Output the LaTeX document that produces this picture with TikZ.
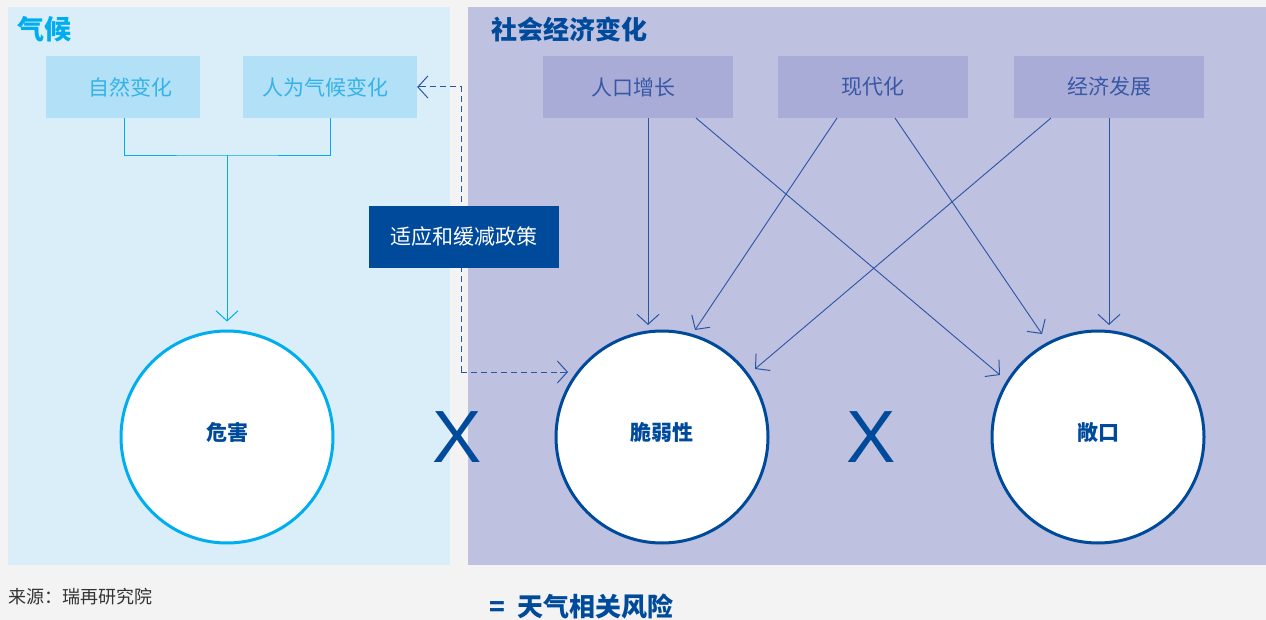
\documentclass[tikz,border=0pt]{standalone}
\usepackage{fontspec}
\setmainfont{Liberation Sans}
\newfontfamily\cjk{Noto Sans CJK SC}
\usetikzlibrary{arrows.meta,calc}
\definecolor{bgc}{HTML}{F3F3F3}
\definecolor{lpanel}{HTML}{DAEEFA}
\definecolor{rpanel}{HTML}{BFC1E0}
\definecolor{lbox}{HTML}{B1E0F7}
\definecolor{rbox}{HTML}{AAACD8}
\definecolor{cyanc}{HTML}{00AEEF}
\definecolor{navy}{HTML}{004A9C}
\definecolor{linec}{HTML}{2B55A3}
\definecolor{ltext}{HTML}{35B2E8}
\definecolor{rtext}{HTML}{3857A5}
\definecolor{srcc}{HTML}{333333}
\tikzset{
  lboxs/.style={fill=lbox, minimum width=#1, minimum height=62pt, inner sep=0pt, text=ltext, font=\cjk\fontsize{21}{24}\selectfont},
  rboxs/.style={fill=rbox, minimum width=190pt, minimum height=62pt, inner sep=0pt, text=rtext, font=\cjk\fontsize{21}{24}\selectfont},
  circs/.style={circle, draw=#1, fill=white, line width=3pt, minimum size=212pt, inner sep=0pt, text=navy, font=\cjk\bfseries\fontsize{21}{24}\selectfont},
  arr/.style={draw=linec, line width=0.9pt, -{Straight Barb[length=10pt,width=22pt,line width=1pt]}},
  carr/.style={draw=cyanc, line width=0.9pt, -{Straight Barb[length=10pt,width=22pt,line width=1pt]}},
  dsh/.style={draw=linec, line width=1pt, dash pattern=on 6pt off 4pt},
  xmark/.style={text=navy, font=\fontsize{74}{74}\selectfont, inner sep=0pt},
  titl/.style={anchor=west, inner sep=0pt, font=\cjk\bfseries\fontsize{27}{30}\selectfont}
}
\begin{document}
\begin{tikzpicture}[x=1pt,y=-1pt]
\fill[bgc] (0,0) rectangle (1266,620);
\useasboundingbox (0,0) rectangle (1266,620);
\fill[lpanel] (8,7) rectangle (450,565);
\fill[rpanel] (468,7) rectangle (1266,565);

\node[titl, text=cyanc] (t1) at (17,29) {气候};
\node[titl, text=navy, font=\cjk\bfseries\fontsize{26}{30}\selectfont] (t2) at (491,29) {社会经济变化};

\node[lboxs=154pt] (n1) at (123,87) {\hspace*{14pt}自然变化};
\node[lboxs=174pt] (n2) at (330,87) {人为气候变化\hspace*{10pt}};

\node[rboxs] (p1) at (638,87) {人口增长\hspace*{10pt}};
\node[rboxs] (p2) at (873,87) {现代化};
\node[rboxs] (p3) at (1109,87) {经济发展};

\node[circs=cyanc] (haz) at (227,437) {\raisebox{11pt}{危害}};
\node[circs=navy] (vul) at (662,437) {\raisebox{11pt}{脆弱性}};
\node[circs=navy] (exp) at (1098,437) {\raisebox{11pt}{敞口}};

% left tree
\coordinate (j) at (227,155);
\draw[cyanc, line width=0.9pt] (n1.south -| 124,0) |- (j) -| (n2.south);
\draw[carr] (j) -- ($(haz.north)+(0,-8)$);

% dashed policy line
\coordinate (dc) at (461,372);
\coordinate (dv) at (568,372);
\draw[dsh] (dc) |- (n2.east);
\draw[linec, line width=1pt, -{Straight Barb[length=10pt,width=22pt]}] ($(n2.east)+(8,0)$) -- (n2.east);
\draw[dsh] (dc) -- (dv);
\draw[linec, line width=1pt, -{Straight Barb[length=10pt,width=22pt]}] ($(dv)+(-8,0)$) -- (dv);

\node[fill=navy, minimum width=190pt, minimum height=62pt, inner sep=0pt, text=white, font=\cjk\fontsize{21}{24}\selectfont] (pol) at (464,237) {适应和缓减政策};

% right arrows
\coordinate (a1s) at (648,118); \coordinate (a1e) at (648,325);
\coordinate (a2s) at (696,118); \coordinate (a2e) at (1000,375);
\coordinate (a3s) at (837,118); \coordinate (a3e) at (695,330);
\coordinate (a4s) at (895,118); \coordinate (a4e) at (1042,334);
\coordinate (a5s) at (1051,118); \coordinate (a5e) at (755,369);
\coordinate (a6s) at (1109,118); \coordinate (a6e) at (1109,325);
\draw[arr] (a1s) -- (a1e);
\draw[arr] (a2s) -- (a2e);
\draw[arr] (a3s) -- (a3e);
\draw[arr] (a4s) -- (a4e);
\draw[arr] (a5s) -- (a5e);
\draw[arr] (a6s) -- (a6e);

\node[xmark] (x1) at (457,437) {X};
\node[xmark] (x2) at (871,437) {X};

\node[anchor=west, inner sep=0pt, text=srcc, font=\cjk\fontsize{18}{20}\selectfont] (src) at (8,597) {来源：瑞再研究院};
\node[anchor=west, inner sep=0pt, text=navy, font=\cjk\bfseries\fontsize{26}{30}\selectfont] (res) at (489,607) {=\hspace{12pt}天气相关风险};
\end{tikzpicture}
\end{document}
